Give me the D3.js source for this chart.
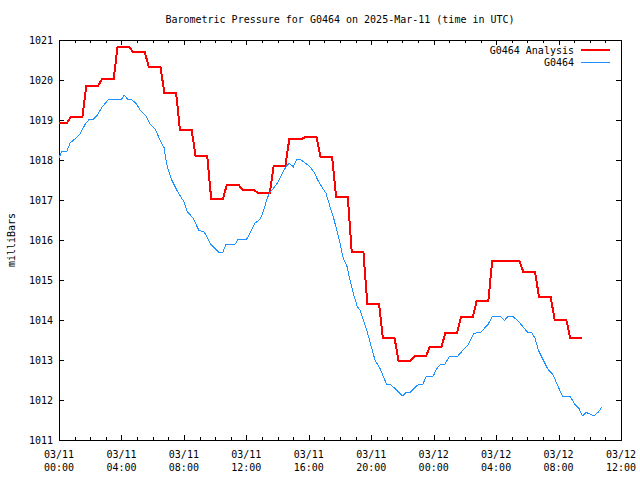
<!DOCTYPE html>
<html>
<head>
<meta charset="utf-8">
<script src="https://cdn.jsdelivr.net/npm/d3@7"></script>
<style>
    body { margin: 0; background: #fff; }
    text { font-family: "DejaVu Sans Mono", monospace; font-size: 10px; fill: #000; }
</style>
</head>
<body>
<svg id="chart" width="640" height="480"></svg>
<script>
const title = 'Barometric Pressure for G0464 on 2025-Mar-11 (time in UTC)'
const yLabel = 'milliBars'
const seriesNames = ['G0464 Analysis', 'G0464']
const seriesColors = ['#ff0000', '#1e90ff']
const startTime = '2025-03-11T00:00:00Z'
const endTime = '2025-03-12T12:00:00Z'
const pressureTicks = [1011, 1012, 1013, 1014, 1015, 1016, 1017, 1018, 1019, 1020, 1021]

// hourly analysis values (hours after start time)
const analysisHours = [0, 1, 2, 3, 4, 5, 6, 7, 8, 9, 10, 11, 12, 13, 14, 15, 16,
    17, 18, 19, 20, 21, 22, 23, 24, 25, 26, 27, 28, 29, 30, 31, 32, 33]
const analysisPressure = [1018.92, 1019.07, 1019.85, 1020.02, 1020.83, 1020.69, 1020.33, 1019.68,
    1018.75, 1018.09, 1017.02, 1017.38, 1017.25, 1017.17, 1017.84, 1018.52, 1018.57,
    1018.07, 1017.07, 1015.70, 1014.40, 1013.54, 1012.98, 1013.09, 1013.33, 1013.68,
    1014.07, 1014.47, 1015.48, 1015.48, 1015.19, 1014.57, 1014.00, 1013.54]

// station observations (hours after start time)
const obsHours = [0, 0.17, 0.5, 0.7, 1.0, 1.35, 1.67, 1.94, 2.2, 2.45, 2.73, 3.18, 4.0, 4.18, 4.4,
    4.68, 4.97, 5.19, 5.57, 5.83, 6.15, 6.47, 6.73, 6.85, 7.0, 7.22, 7.54, 7.86, 8.0, 8.22,
    8.6, 8.97, 9.25, 9.46, 9.72, 10.25, 10.49, 10.7, 11.27, 11.48, 12.02, 12.34, 12.56,
    12.88, 13.09, 13.3, 13.47, 13.73, 14.05, 14.37, 14.54, 14.73, 15.01, 15.23, 15.44,
    15.76, 16.08, 16.36, 16.61, 16.83, 17.1, 17.36, 17.57, 17.79, 18.0, 18.21, 18.43,
    18.64, 18.85, 19.11, 19.28, 19.71, 20.24, 20.56, 20.78, 20.99, 21.25, 21.63, 21.99,
    22.23, 22.49, 23.02, 23.3, 23.51, 23.98, 24.19, 24.45, 24.73, 25.0, 25.52, 25.8,
    26.22, 26.54, 26.8, 27.01, 27.5, 27.76, 28.25, 28.53, 28.79, 29.06, 29.53, 30.02,
    30.28, 30.5, 30.7, 31.02, 31.3, 31.65, 31.98, 32.24, 32.74, 33.02, 33.31, 33.52,
    33.76, 34.02, 34.27, 34.55, 34.77]
const obsPressure = [1018.05, 1018.21, 1018.21, 1018.42, 1018.52, 1018.65, 1018.89, 1019.02, 1019.02,
    1019.12, 1019.31, 1019.52, 1019.52, 1019.62, 1019.52, 1019.50, 1019.40, 1019.25, 1019.10,
    1018.90, 1018.78, 1018.50, 1018.31, 1018.00, 1017.75, 1017.50, 1017.25, 1017.04, 1016.96,
    1016.71, 1016.54, 1016.23, 1016.22, 1016.10, 1015.89, 1015.69, 1015.69, 1015.89, 1015.89,
    1016.02, 1016.02, 1016.25, 1016.42, 1016.52, 1016.71, 1017.00, 1017.17, 1017.29, 1017.46,
    1017.71, 1017.83, 1017.92, 1017.83, 1018.02, 1018.02, 1017.93, 1017.83, 1017.68, 1017.47,
    1017.33, 1017.17, 1016.83, 1016.58, 1016.25, 1015.92, 1015.54, 1015.37, 1015.00, 1014.67,
    1014.33, 1014.25, 1013.75, 1013.00, 1012.79, 1012.58, 1012.39, 1012.38, 1012.25, 1012.10,
    1012.19, 1012.19, 1012.39, 1012.39, 1012.58, 1012.60, 1012.78, 1012.90, 1012.90, 1013.09,
    1013.09, 1013.21, 1013.39, 1013.65, 1013.69, 1013.69, 1013.90, 1014.10, 1014.10, 1013.99,
    1014.10, 1014.10, 1013.92, 1013.69, 1013.69, 1013.54, 1013.25, 1013.00, 1012.78, 1012.63,
    1012.33, 1012.10, 1012.10, 1011.90, 1011.79, 1011.60, 1011.69, 1011.65, 1011.60, 1011.70,
    1011.82]

const margin = {left: 59, right: 19, top: 40, bottom: 40}
const width = 640, height = 480
const t0 = new Date(startTime).getTime()
const toDate = h => new Date(t0 + h * 3600e3)

const svg = d3.select('#chart')

const x = d3.scaleUtc()
    .domain([new Date(startTime), new Date(endTime)])
    .range([margin.left, width - margin.right])
const y = d3.scaleLinear()
    .domain([d3.min(pressureTicks), d3.max(pressureTicks)])
    .range([height - margin.bottom, margin.top])

const tEnd = new Date(x.domain()[1].getTime() + 1)
const majorTicks = d3.utcHour.every(4).range(x.domain()[0], tEnd)
const minorTicks = d3.utcHour.every(1).range(x.domain()[0], tEnd)

const axisG = svg.append('g').attr('shape-rendering', 'crispEdges')

// inward ticks on all four sides, like the gnuplot border
const axisBottomG = axisG.append('g').attr('transform', `translate(0,${height - margin.bottom})`)
axisBottomG.append('g').call(d3.axisBottom(x).tickValues(minorTicks).tickSize(-3).tickFormat(''))
axisBottomG.append('g').call(d3.axisBottom(x).tickValues(majorTicks).tickSize(-5).tickFormat(''))

const axisTopG = axisG.append('g').attr('transform', `translate(0,${margin.top})`)
axisTopG.append('g').call(d3.axisTop(x).tickValues(minorTicks).tickSize(-3).tickFormat(''))
axisTopG.append('g').call(d3.axisTop(x).tickValues(majorTicks).tickSize(-5).tickFormat(''))

axisG.append('g').attr('transform', `translate(${margin.left},0)`)
    .call(d3.axisLeft(y).tickValues(pressureTicks).tickSize(-5).tickFormat(''))
axisG.append('g').attr('transform', `translate(${width - margin.right},0)`)
    .call(d3.axisRight(y).tickValues(pressureTicks).tickSize(-5).tickFormat(''))
axisG.selectAll('.domain').remove()
axisG.selectAll('.tick line').attr('stroke', '#000')

axisG.append('rect')
    .attr('x', margin.left).attr('y', margin.top)
    .attr('width', width - margin.left - margin.right)
    .attr('height', height - margin.top - margin.bottom)
    .attr('fill', 'none').attr('stroke', '#000')

// tick labels
svg.append('g').selectAll('text')
    .data(pressureTicks)
    .enter().append('text')
    .attr('x', margin.left - 6)
    .attr('y', d => y(d))
    .attr('dy', '0.35em')
    .attr('text-anchor', 'end')
    .text(d => d)

const xLab = svg.append('g').selectAll('text')
    .data(majorTicks)
    .enter().append('text')
    .attr('text-anchor', 'middle')
xLab.append('tspan')
    .attr('x', d => x(d)).attr('y', 454).attr('dy', '0.35em')
    .text(d3.utcFormat('%m/%d'))
xLab.append('tspan')
    .attr('x', d => x(d)).attr('y', 467).attr('dy', '0.35em')
    .text(d3.utcFormat('%H:%M'))

svg.append('text')
    .attr('x', (margin.left + width - margin.right) / 2)
    .attr('y', 19)
    .attr('dy', '0.35em')
    .attr('text-anchor', 'middle')
    .text(title)

svg.append('text')
    .attr('transform', `translate(11,${(margin.top + height - margin.bottom) / 2}) rotate(-90)`)
    .attr('dy', '0.35em')
    .attr('text-anchor', 'middle')
    .text(yLabel)

// analysis is held for each hour and steps to the next value around half past
const analysisPoints = []
analysisHours.forEach((h, i) => {
    analysisPoints.push([toDate(Math.max(0, h - 0.25)), analysisPressure[i]])
    analysisPoints.push([toDate(h + 0.5), analysisPressure[i]])
})
const obsPoints = obsHours.map((h, i) => [toDate(h), obsPressure[i]])

const line = d3.line()
    .x(d => x(d[0]))
    .y(d => y(d[1]))

// no anti-aliasing, to match the raster look of the original
const plot = svg.append('g').attr('shape-rendering', 'crispEdges')
plot.append('path')
    .attr('d', line(analysisPoints))
    .attr('fill', 'none')
    .attr('stroke', seriesColors[0])
    .attr('stroke-width', 2)
plot.append('path')
    .attr('d', line(obsPoints))
    .attr('fill', 'none')
    .attr('stroke', seriesColors[1])
    .attr('stroke-width', 1)

// legend, top right
const legend = svg.append('g')
seriesNames.forEach((name, i) => {
    const ly = 50 + i * 12
    legend.append('text')
        .attr('x', 574).attr('y', ly).attr('dy', '0.35em')
        .attr('text-anchor', 'end')
        .text(name)
    legend.append('line')
        .attr('x1', 581).attr('x2', 610)
        .attr('y1', ly).attr('y2', ly)
        .attr('stroke', seriesColors[i])
        .attr('stroke-width', i === 0 ? 2 : 1)
        .attr('shape-rendering', 'crispEdges')
})
</script>
</body>
</html>
